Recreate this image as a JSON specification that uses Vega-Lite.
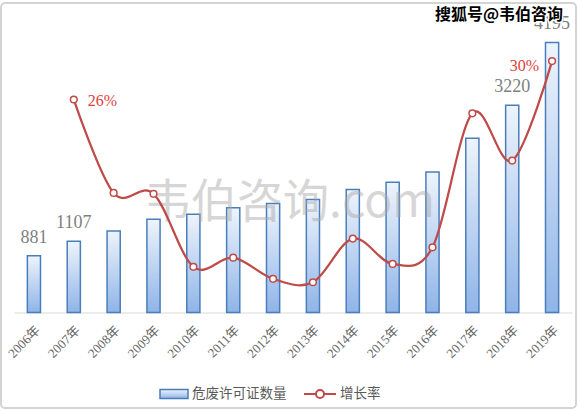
{
  "$schema": "https://vega.github.io/schema/vega-lite/v6.json",
  "width": 575,
  "height": 405,
  "autosize": "none",
  "padding": {"left": 1, "top": 3, "right": 2, "bottom": 3},
  "background": "white",
  "config": {
    "view": {"stroke": "#d4d4d4", "strokeWidth": 2, "cornerRadius": 4},
    "font": "Liberation Serif"
  },
  "data": {
    "values": [
      {"year": "2006年", "count": 881, "rate": null},
      {"year": "2007年", "count": 1107, "rate": 0.2566},
      {"year": "2008年", "count": 1266, "rate": 0.144},
      {"year": "2009年", "count": 1447, "rate": 0.143},
      {"year": "2010年", "count": 1527, "rate": 0.055},
      {"year": "2011年", "count": 1628, "rate": 0.066},
      {"year": "2012年", "count": 1694, "rate": 0.0405},
      {"year": "2013年", "count": 1756, "rate": 0.0364},
      {"year": "2014年", "count": 1912, "rate": 0.089},
      {"year": "2015年", "count": 2024, "rate": 0.0585},
      {"year": "2016年", "count": 2183, "rate": 0.0785},
      {"year": "2017年", "count": 2707, "rate": 0.24},
      {"year": "2018年", "count": 3220, "rate": 0.183},
      {"year": "2019年", "count": 4195, "rate": 0.3029}
    ]
  },
  "encoding": {
    "x": {
      "field": "year",
      "type": "nominal",
      "sort": null,
      "scale": {"range": [13, 571], "paddingInner": 0.67, "paddingOuter": 0.335},
      "axis": {
        "orient": "bottom",
        "offset": -95.5,
        "title": null,
        "domainColor": "#d9d9d9",
        "domainWidth": 1,
        "ticks": false,
        "grid": false,
        "labelAngle": -45,
        "labelAlign": "right",
        "labelBaseline": "top",
        "labelPadding": 11,
        "labelFont": "Liberation Serif, Noto Sans CJK SC",
        "labelFontSize": 13,
        "labelColor": "#666666",
        "labelOverlap": false
      }
    }
  },
  "layer": [
    {
      "mark": {
        "type": "bar",
        "fill": {
          "gradient": "linear",
          "x1": 0, "y1": 0, "x2": 0, "y2": 1,
          "stops": [
            {"offset": 0, "color": "#eef4fc"},
            {"offset": 1, "color": "#8fb4e8"}
          ]
        },
        "strokeWidth": 1.5
      },
      "encoding": {
        "y": {"field": "count", "type": "quantitative", "scale": {"domain": [-1483, 4807], "nice": false, "zero": false}, "axis": null},
        "y2": {"datum": 0},
        "stroke": {
          "datum": "危废许可证数量",
          "scale": {"range": ["#4a7ebb"]},
          "legend": {
            "orient": "none",
            "legendX": 158,
            "legendY": 376,
            "title": null,
            "padding": 0,
            "symbolType": "M-1,-0.32H1V0.32H-1Z",
            "symbolSize": 784,
            "symbolStrokeWidth": 1.5,
            "symbolFillColor": "#c6d9f1",
            "labelFont": "Liberation Serif, Noto Sans CJK SC",
            "labelFontSize": 13.5,
            "labelColor": "#595959",
            "labelOffset": 3
          }
        }
      }
    },
    {
      "data": {"values": [{"t": "韦伯咨询.com"}]},
      "mark": {"type": "text", "font": "Noto Sans CJK SC", "fontSize": 46, "color": "#a6a6a6", "opacity": 0.45, "dx": -23, "baseline": "middle", "align": "center"},
      "encoding": {
        "x": {"datum": "2013年"},
        "y": {"datum": 1700, "type": "quantitative", "scale": {"domain": [-1483, 4807], "nice": false, "zero": false}, "axis": null},
        "text": {"field": "t"}
      }
    },
    {
      "mark": {"type": "line", "interpolate": "cardinal", "strokeWidth": 2.25},
      "encoding": {
        "y": {"field": "rate", "type": "quantitative", "scale": {"domain": [-0.1151, 0.3729], "nice": false, "zero": false}, "axis": null},
        "stroke": {
          "datum": "增长率",
          "scale": {"range": ["#be4b48"]},
          "legend": {
            "orient": "none",
            "legendX": 302,
            "legendY": 374,
            "title": null,
            "padding": 0,
            "symbolType": "M-1,0H-0.25M0.25,0H1M-0.25,0A0.25,0.25 0 1,1 0.25,0A0.25,0.25 0 1,1 -0.25,0Z",
            "symbolSize": 1024,
            "symbolStrokeWidth": 2,
            "symbolFillColor": "white",
            "labelFont": "Liberation Serif, Noto Sans CJK SC",
            "labelFontSize": 13.5,
            "labelColor": "#595959",
            "labelOffset": 3
          }
        }
      }
    },
    {
      "mark": {"type": "point", "filled": true, "fill": "white", "stroke": "#be4b48", "strokeWidth": 1.5, "size": 45, "opacity": 1},
      "encoding": {
        "y": {"field": "rate", "type": "quantitative", "scale": {"domain": [-0.1151, 0.3729], "nice": false, "zero": false}, "axis": null}
      }
    },
    {
      "transform": [{"filter": {"field": "year", "oneOf": ["2006年", "2007年", "2018年", "2019年"]}}],
      "mark": {"type": "text", "font": "Liberation Serif", "fontSize": 18, "color": "#7f7f7f", "dy": -18, "baseline": "middle", "align": "center"},
      "encoding": {
        "y": {"field": "count", "type": "quantitative", "scale": {"domain": [-1483, 4807], "nice": false, "zero": false}, "axis": null},
        "text": {"field": "count", "type": "quantitative", "format": "d"}
      }
    },
    {
      "transform": [{"filter": {"field": "year", "equal": "2007年"}}],
      "mark": {"type": "text", "font": "Liberation Serif", "fontSize": 16, "color": "#e0403a", "dx": 14, "dy": 1.5, "baseline": "middle", "align": "left"},
      "encoding": {
        "y": {"field": "rate", "type": "quantitative", "scale": {"domain": [-0.1151, 0.3729], "nice": false, "zero": false}, "axis": null},
        "text": {"field": "rate", "type": "quantitative", "format": ".0%"}
      }
    },
    {
      "transform": [{"filter": {"field": "year", "equal": "2019年"}}],
      "mark": {"type": "text", "font": "Liberation Serif", "fontSize": 16, "color": "#e0403a", "dx": -13, "dy": 4.5, "baseline": "middle", "align": "right"},
      "encoding": {
        "y": {"field": "rate", "type": "quantitative", "scale": {"domain": [-0.1151, 0.3729], "nice": false, "zero": false}, "axis": null},
        "text": {"field": "rate", "type": "quantitative", "format": ".0%"}
      }
    },
    {
      "data": {"values": [{"t": "搜狐号@韦伯咨询"}]},
      "mark": {"type": "text", "font": "Noto Sans CJK SC", "fontSize": 16, "fontWeight": "bold", "fill": "white", "stroke": "white", "strokeWidth": 3, "dx": 11, "baseline": "middle", "align": "right"},
      "encoding": {
        "x": {"datum": "2019年"},
        "y": {"datum": 4620, "type": "quantitative", "scale": {"domain": [-1483, 4807], "nice": false, "zero": false}, "axis": null},
        "text": {"field": "t"}
      }
    },
    {
      "data": {"values": [{"t": "搜狐号@韦伯咨询"}]},
      "mark": {"type": "text", "font": "Noto Sans CJK SC", "fontSize": 16, "fontWeight": "bold", "fill": "black", "dx": 11, "baseline": "middle", "align": "right"},
      "encoding": {
        "x": {"datum": "2019年"},
        "y": {"datum": 4620, "type": "quantitative", "scale": {"domain": [-1483, 4807], "nice": false, "zero": false}, "axis": null},
        "text": {"field": "t"}
      }
    }
  ],
  "resolve": {"scale": {"y": "independent", "stroke": "independent"}}
}
